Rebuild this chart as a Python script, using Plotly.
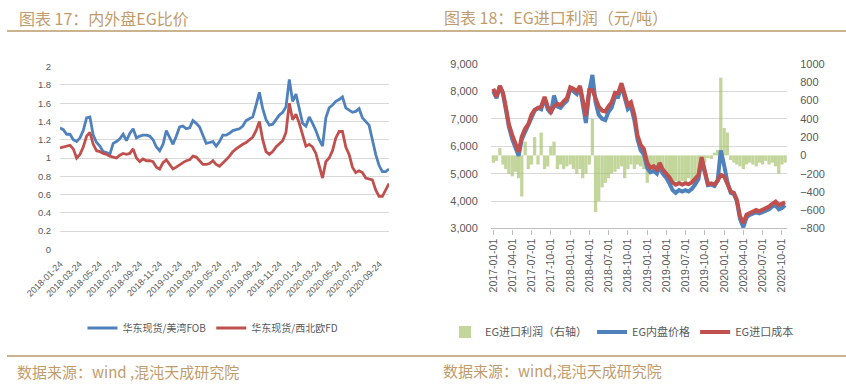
import plotly.graph_objects as go
import pandas as pd

# ---------------- Left panel: 内外盘EG比价 ----------------
ratio_start = "2018-01-24"
ratio_end = "2020-10-23"
ratio_fob = [
    1.33, 1.31, 1.26, 1.26, 1.20, 1.18, 1.22, 1.30, 1.44, 1.45,
    1.25, 1.17, 1.13, 1.07, 1.06, 1.04, 1.16, 1.18, 1.21, 1.26,
    1.19, 1.27, 1.32, 1.22, 1.24, 1.25, 1.25, 1.24, 1.20, 1.12,
    1.08, 1.15, 1.30, 1.22, 1.15, 1.24, 1.34, 1.35, 1.32, 1.33,
    1.41, 1.38, 1.34, 1.25, 1.16, 1.17, 1.18, 1.13, 1.18, 1.25,
    1.25, 1.27, 1.30, 1.31, 1.32, 1.35, 1.41, 1.43, 1.45, 1.58,
    1.72, 1.54, 1.42, 1.36, 1.37, 1.42, 1.47, 1.50, 1.56, 1.86,
    1.62, 1.70, 1.55, 1.38, 1.35, 1.45, 1.38, 1.30, 1.20, 1.13,
    1.44, 1.55, 1.58, 1.62, 1.64, 1.67, 1.55, 1.52, 1.50, 1.51,
    1.54, 1.44, 1.40, 1.36, 1.20, 1.04, 0.92, 0.85, 0.85, 0.88,
]
ratio_fd = [
    1.11, 1.12, 1.13, 1.14, 1.10, 1.00, 1.04, 1.12, 1.24, 1.28,
    1.15, 1.08, 1.07, 1.05, 1.04, 1.02, 1.01, 1.00, 1.03, 1.05,
    1.04, 1.05, 1.10, 1.00, 0.96, 0.99, 0.97, 0.97, 0.96, 0.90,
    0.88, 0.95, 0.98, 0.93, 0.88, 0.90, 0.93, 0.95, 0.97, 0.98,
    1.02, 1.01, 0.97, 0.93, 0.93, 0.94, 0.97, 0.93, 0.91, 0.94,
    0.98, 1.02, 1.07, 1.10, 1.13, 1.15, 1.17, 1.20, 1.23, 1.30,
    1.40, 1.20, 1.07, 1.04, 1.07, 1.12, 1.16, 1.19, 1.28, 1.60,
    1.42, 1.48, 1.38, 1.25, 1.13, 1.15, 1.12, 1.05, 0.92, 0.78,
    0.96, 1.00, 1.08, 1.22, 1.29, 1.29, 1.12, 1.04, 0.90, 0.84,
    0.86, 0.84, 0.78, 0.77, 0.76, 0.65, 0.58, 0.58, 0.65, 0.72,
]
ratio_dates = pd.date_range(ratio_start, ratio_end, periods=len(ratio_fob))
ratio_ticks = [
    "2018-01-24", "2018-03-24", "2018-05-24", "2018-07-24", "2018-09-24",
    "2018-11-24", "2019-01-24", "2019-03-24", "2019-05-24", "2019-07-24",
    "2019-09-24", "2019-11-24", "2020-01-24", "2020-03-24", "2020-05-24",
    "2020-07-24", "2020-09-24",
]
ratio_yticks = [0, 0.2, 0.4, 0.6, 0.8, 1, 1.2, 1.4, 1.6, 1.8, 2]

# ---------------- Right panel: EG进口利润 ----------------
eg_dates = [f"{y}-{m:02d}-{d:02d}" for y in range(2017, 2021)
            for m in range(1, 13) for d in (1, 16)][:92]
eg_cost = [
    8100, 7800, 8200, 7950, 7450, 6800, 6400, 6100, 5800, 6350,
    6650, 6800, 7150, 7330, 7390, 7450, 7800, 7450, 7250, 7450,
    7550, 7500, 7650, 7750, 8150, 8100, 8000, 8200, 7700, 7100,
    8050, 8050, 7750, 7450, 7300, 7270, 7450, 7600, 7950, 7930,
    8300, 7950, 7500, 7600, 7150, 6400, 6050, 5900, 5400, 5210,
    5270, 5150, 5390, 5150, 5030, 4870, 4680, 4600, 4650, 4600,
    4650, 4620, 4680, 4800, 4950, 5600, 5150, 4620, 4650, 4600,
    4750, 4950, 4900, 4650, 4350, 4300, 4050, 3450, 3200, 3500,
    3570, 3620, 3680, 3630, 3680, 3730, 3800, 3900, 3980, 3850,
    3900, 3950,
]
eg_domestic = [
    8000, 7750, 8200, 7900, 7350, 6700, 6250, 5950, 5650, 6250,
    6550, 6750, 7050, 7300, 7400, 7350, 7750, 7350, 7200, 7850,
    7450, 7400, 7550, 7650, 8100, 8000, 7900, 8150, 7550, 6850,
    8000, 8600, 7600, 7150, 7000, 6950, 7250, 7400, 7800, 7800,
    8200, 7800, 7350, 7450, 6950, 6250, 5850, 5700, 5200, 5050,
    5100, 5000, 5250, 5000, 4850, 4650, 4400, 4300, 4400, 4350,
    4400, 4350, 4450, 4600, 4800, 5500, 5050, 4580, 4600, 4550,
    4750, 5850, 5300, 4700, 4300, 4250, 4000, 3350, 3050, 3400,
    3500, 3550, 3600, 3550, 3600, 3650, 3700, 3800, 3850, 3700,
    3750, 3850,
]
eg_profit = [
    -80, -60, 80, -100, -150, -200, -230, -180, -250, -450,
    150, -150, -100, 200, -100, 250, -150, -120, 100, 150,
    -150, -100, -150, -120, -100, -150, -200, -150, -250, -200,
    -100, 400, -620, -500, -350, -300, -250, -200, -180, -150,
    -120, -250, -150, -100, -150, -100, -120, -150, -300, -150,
    -200, -150, -130, -180, -200, -250, -300, -280, -300, -280,
    -300, -250, -280, -260, -250, -100, -80, -30, -40, 30,
    60, 850, 300, 250, -50, -80, -100, -120, -150, -100,
    -80, -100, -120, -80, -100, -60, -100, -80, -120, -200,
    -100, -80,
]
eg_ticks = [f"{y}-{m:02d}-01" for y in range(2017, 2021) for m in (1, 4, 7, 10)]

# ---------------- styling ----------------
W, H = 846, 385
BLUE = "#4F81BD"
RED = "#C0504D"
GREEN = "#9BBB59"
TAN = "#C09C6C"
RULE = "#B89A68"
GRID = "#D9D9D9"
TICK = "#595959"
CJK = "Noto Sans CJK SC"
NUM = "Liberation Sans"
DAY_MS = 86400000


def px(x):
    return x / W


def py(y):
    return 1 - y / H


fig = go.Figure()

fig.add_trace(go.Scatter(x=ratio_dates, y=ratio_fob, mode="lines", name="华东现货/美湾FOB",
                         line=dict(color=BLUE, width=2.8), xaxis="x", yaxis="y", legend="legend"))
fig.add_trace(go.Scatter(x=ratio_dates, y=ratio_fd, mode="lines", name="华东现货/西北欧FD",
                         line=dict(color=RED, width=2.8), xaxis="x", yaxis="y", legend="legend"))

fig.add_trace(go.Bar(x=eg_dates, y=eg_profit, name="EG进口利润（右轴）",
                     width=15.5 * DAY_MS,
                     marker=dict(color=GREEN, line=dict(width=0)), opacity=0.6,
                     xaxis="x2", yaxis="y2", legend="legend2"))
fig.add_trace(go.Scatter(x=eg_dates, y=eg_domestic, mode="lines", name="EG内盘价格",
                         line=dict(color=BLUE, width=4), xaxis="x2", yaxis="y3", legend="legend2"))
fig.add_trace(go.Scatter(x=eg_dates, y=eg_cost, mode="lines", name="EG进口成本",
                         line=dict(color=RED, width=4), xaxis="x2", yaxis="y3", legend="legend2"))

fig.update_layout(
    width=W, height=H, autosize=False,
    margin=dict(l=0, r=0, t=0, b=0, pad=0, autoexpand=False),
    paper_bgcolor="white", plot_bgcolor="white",
    xaxis=dict(
        domain=[px(60), px(389)], anchor="y", type="date", automargin=False,
        range=[ratio_start, ratio_end],
        tickvals=ratio_ticks, ticktext=ratio_ticks, tickangle=-45,
        showgrid=False, showline=False, zeroline=False,
        ticks="outside", ticklen=5, tickcolor="rgba(0,0,0,0)",
        tickfont=dict(family=NUM, size=9, color=TICK),
    ),
    yaxis=dict(
        domain=[py(249.3), py(66.7)], anchor="x", range=[0, 2], automargin=False,
        tickvals=ratio_yticks, ticktext=[f"{v:g}" for v in ratio_yticks],
        showgrid=True, gridcolor=GRID, gridwidth=1, zeroline=False, showline=False,
        ticks="outside", ticklen=6, tickcolor="rgba(0,0,0,0)",
        tickfont=dict(family=NUM, size=9.5, color=TICK),
    ),
    xaxis2=dict(
        domain=[px(491), px(787)], anchor="y2", type="date", automargin=False,
        range=["2016-12-21", "2020-10-25"],
        tickvals=eg_ticks, ticktext=eg_ticks, tickangle=-90,
        showgrid=False, zeroline=False, showline=False,
        ticks="outside", ticklen=5, tickcolor="#BFBFBF", tickwidth=1,
        tickfont=dict(family=NUM, size=10.5, color=TICK),
    ),
    yaxis2=dict(
        domain=[py(228.5), py(64)], anchor="x2", side="right", range=[-800, 1000],
        automargin=False,
        dtick=200, showgrid=False, zeroline=False, showline=False,
        ticks="outside", ticklen=10, tickcolor="rgba(0,0,0,0)",
        tickfont=dict(family=NUM, size=11, color=TICK),
    ),
    yaxis3=dict(
        overlaying="y2", anchor="x2", side="left", range=[3000, 9000], automargin=False,
        dtick=1000, tickformat=",",
        showgrid=True, gridcolor=GRID, gridwidth=1.3, zeroline=False, showline=False,
        ticks="outside", ticklen=10, tickcolor="rgba(0,0,0,0)",
        tickfont=dict(family=NUM, size=11, color=TICK),
    ),
    legend=dict(
        orientation="h", x=px(213), y=py(328), xanchor="center", yanchor="middle",
        font=dict(family=CJK, size=10, color=TICK), bgcolor="rgba(0,0,0,0)",
        itemwidth=30, tracegroupgap=0,
    ),
    legend2=dict(
        orientation="h", x=px(622), y=py(332), xanchor="center", yanchor="middle",
        font=dict(family=CJK, size=11, color=TICK), bgcolor="rgba(0,0,0,0)",
        itemwidth=30, tracegroupgap=0,
    ),
    showlegend=True,
)

# 3,000 axis baseline for right panel
fig.add_shape(type="line", xref="paper", yref="paper", x0=px(491), x1=px(787),
              y0=py(228.5), y1=py(228.5), line=dict(color="#BFBFBF", width=1.2))

# header / footer rules
for yy in (31, 356):
    fig.add_shape(type="line", xref="paper", yref="paper", x0=px(7), x1=1,
                  y0=py(yy), y1=py(yy), line=dict(color=RULE, width=1.5))

texts = [
    (17, 18, "图表 17：内外盘EG比价", 16),
    (442, 17, "图表 18：EG进口利润（元/吨）", 16),
    (15, 371, "数据来源：wind ,混沌天成研究院", 15),
    (441, 370, "数据来源：wind,混沌天成研究院", 15),
]
for x, y, t, s in texts:
    fig.add_annotation(x=px(x), y=py(y), xref="paper", yref="paper", text=t,
                       showarrow=False, xanchor="left", yanchor="middle",
                       font=dict(family=CJK, size=s, color=TAN))

fig.write_html(
    "out.html",
    config={"displayModeBar": False},
    post_script="document.body.style.margin='0px';document.body.style.padding='0px';",
)
